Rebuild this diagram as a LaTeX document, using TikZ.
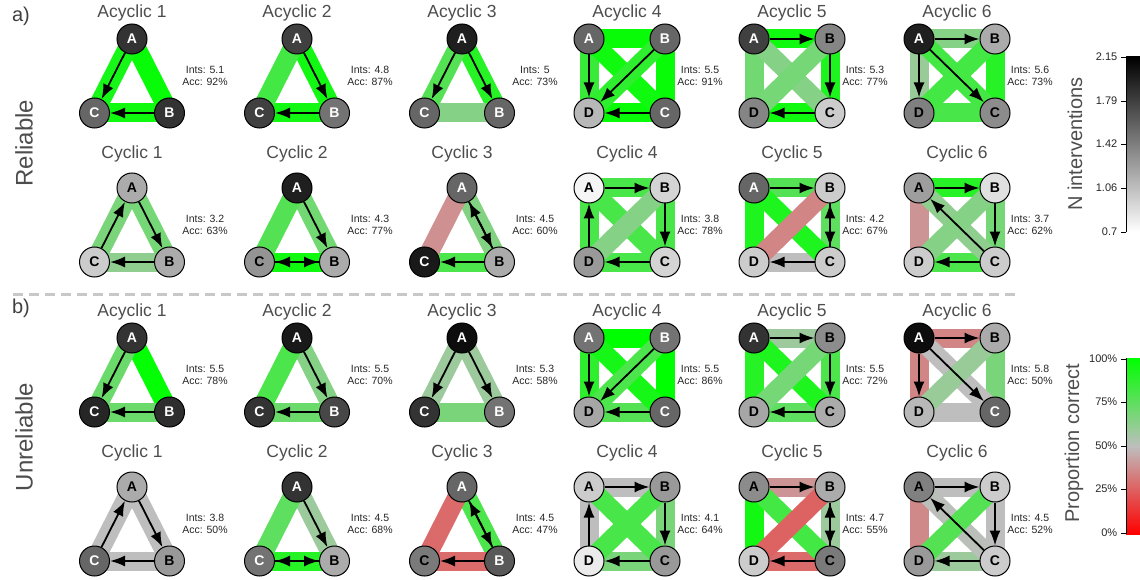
\documentclass[tikz,border=0pt]{standalone}
\usepackage{fontspec}
\setmainfont{Liberation Sans}
\usetikzlibrary{arrows.meta,backgrounds}
\definecolor{pgood}{HTML}{00FF00}
\definecolor{pmid}{HTML}{BEBEBE}
\definecolor{pbad}{HTML}{FF0000}
\definecolor{titlegrey}{HTML}{4D4D4D}
\definecolor{sepgrey}{HTML}{C8C8C8}

\begin{document}
\begin{tikzpicture}[
  x=1pt,
  y=-1pt,
  nd/.code={\tikzset{circle,draw=black,line width=1pt,minimum size=30pt,
    inner sep=0pt,font=\bfseries\fontsize{14}{14}\selectfont,fill=black!#1}%
    \ifnum#1>53 \tikzset{text=white}\fi},
  band/.code={\pgfmathtruncatemacro\bandmix{abs(2*#1-100)}%
    \ifnum#1<50 \tikzset{draw=pbad!\bandmix!pmid}\else\tikzset{draw=pgood!\bandmix!pmid}\fi
    \tikzset{line width=19pt}},
  arr/.style={line width=1.8pt,-{Latex[length=15pt,width=11pt]}},
  gtitle/.style={text=titlegrey,font=\fontsize{17.5}{17.5}\selectfont},
  stats/.style={align=center,text=black!85,font=\fontsize{10.5}{12}\selectfont},
  rowlabel/.style={text=titlegrey,font=\fontsize{24}{24}\selectfont,rotate=90},
  panellabel/.style={text=black!75,font=\fontsize{20}{20}\selectfont},
  barlabel/.style={text=titlegrey,font=\fontsize{20}{20}\selectfont,rotate=90},
  ticklabel/.style={text=black!85,font=\fontsize{11}{11}\selectfont,anchor=east},
  sepline/.style={draw=sepgrey,line width=3pt,dash pattern=on 10pt off 6pt}
]
  \useasboundingbox (0,0) rectangle (1140,580);

  % Panel letters, row labels and the split between them
  \node[panellabel] (pa) at (21,16) {a)};
  \node[rowlabel] (rel) at (24,143) {Reliable};
  \node[panellabel] (pb) at (21,308) {b)};
  \node[rowlabel] (unrel) at (24,437) {Unreliable};
  \draw[sepline] (13,294) -- (1021,294);

  % ---------------- Reliable, acyclic ----------------
  \begin{scope}[shift={(132,39)}]
    \node[gtitle] (ra1) at (0,-26) {Acyclic 1};
    \node[stats] (ra1s) at (73,37) {Ints: 5.1\\Acc: 92\%};
    \foreach \n/\x/\y/\k in {A/0/0/80,B/37.5/74/80,C/-37.5/74/60}
      \node[nd=\k] (ra1\n) at (\x,\y) {\n};
    \begin{scope}[on background layer]
      \foreach \u/\v/\p in {A/B/98,B/C/96,C/A/94}
        \draw[band=\p] (ra1\u.center) -- (ra1\v.center);
    \end{scope}
    \foreach \u/\v in {A/C,B/C} \draw[arr] (ra1\u) -- (ra1\v);
  \end{scope}

  \begin{scope}[shift={(297,39)}]
    \node[gtitle] (ra2) at (0,-26) {Acyclic 2};
    \node[stats] (ra2s) at (73,37) {Ints: 4.8\\Acc: 87\%};
    \foreach \n/\x/\y/\k in {A/0/0/75,B/37.5/74/55,C/-37.5/74/75}
      \node[nd=\k] (ra2\n) at (\x,\y) {\n};
    \begin{scope}[on background layer]
      \foreach \u/\v/\p in {A/B/95,B/C/95,C/A/82}
        \draw[band=\p] (ra2\u.center) -- (ra2\v.center);
    \end{scope}
    \foreach \u/\v in {A/B,B/C} \draw[arr] (ra2\u) -- (ra2\v);
  \end{scope}

  \begin{scope}[shift={(462,39)}]
    \node[gtitle] (ra3) at (0,-26) {Acyclic 3};
    \node[stats] (ra3s) at (73,37) {Ints: 5\\Acc: 73\%};
    \foreach \n/\x/\y/\k in {A/0/0/88,B/37.5/74/60,C/-37.5/74/60}
      \node[nd=\k] (ra3\n) at (\x,\y) {\n};
    \begin{scope}[on background layer]
      \foreach \u/\v/\p in {A/B/90,B/C/65,C/A/78}
        \draw[band=\p] (ra3\u.center) -- (ra3\v.center);
    \end{scope}
    \foreach \u/\v in {A/C,A/B} \draw[arr] (ra3\u) -- (ra3\v);
  \end{scope}

  \begin{scope}[shift={(627,39)}]
    \node[gtitle] (ra4) at (0,-26) {Acyclic 4};
    \node[stats] (ra4s) at (73,37) {Ints: 5.5\\Acc: 91\%};
    \foreach \n/\x/\y/\k in {A/-38/0/60,B/38/0/60,C/38/74/60,D/-38/74/28}
      \node[nd=\k] (ra4\n) at (\x,\y) {\n};
    \begin{scope}[on background layer]
      \foreach \u/\v/\p in {A/B/98,B/C/98,C/D/98,D/A/85,A/C/96,B/D/88}
        \draw[band=\p] (ra4\u.center) -- (ra4\v.center);
    \end{scope}
    \foreach \u/\v in {A/D,B/D,C/D} \draw[arr] (ra4\u) -- (ra4\v);
  \end{scope}

  \begin{scope}[shift={(792,39)}]
    \node[gtitle] (ra5) at (0,-26) {Acyclic 5};
    \node[stats] (ra5s) at (73,37) {Ints: 5.3\\Acc: 77\%};
    \foreach \n/\x/\y/\k in {A/-38/0/75,B/38/0/48,C/38/74/20,D/-38/74/48}
      \node[nd=\k] (ra5\n) at (\x,\y) {\n};
    \begin{scope}[on background layer]
      \foreach \u/\v/\p in {A/B/96,B/C/92,C/D/96,D/A/70,A/C/65,B/D/69}
        \draw[band=\p] (ra5\u.center) -- (ra5\v.center);
    \end{scope}
    \foreach \u/\v in {A/B,B/C,C/D} \draw[arr] (ra5\u) -- (ra5\v);
  \end{scope}

  \begin{scope}[shift={(957,39)}]
    \node[gtitle] (ra6) at (0,-26) {Acyclic 6};
    \node[stats] (ra6s) at (73,37) {Ints: 5.6\\Acc: 73\%};
    \foreach \n/\x/\y/\k in {A/-38/0/88,B/38/0/33,C/38/74/45,D/-38/74/50}
      \node[nd=\k] (ra6\n) at (\x,\y) {\n};
    \begin{scope}[on background layer]
      \foreach \u/\v/\p in {A/B/65,B/C/90,C/D/81,D/A/60,A/C/82,B/D/82}
        \draw[band=\p] (ra6\u.center) -- (ra6\v.center);
    \end{scope}
    \foreach \u/\v in {A/B,A/D,A/C} \draw[arr] (ra6\u) -- (ra6\v);
  \end{scope}

  % ---------------- Reliable, cyclic ----------------
  \begin{scope}[shift={(132,188)}]
    \node[gtitle] (rc1) at (0,-34) {Cyclic 1};
    \node[stats] (rc1s) at (73,37) {Ints: 3.2\\Acc: 63\%};
    \foreach \n/\x/\y/\k in {A/0/0/33,B/37.5/74/33,C/-37.5/74/20}
      \node[nd=\k] (rc1\n) at (\x,\y) {\n};
    \begin{scope}[on background layer]
      \foreach \u/\v/\p in {A/B/69,B/C/62,C/A/68}
        \draw[band=\p] (rc1\u.center) -- (rc1\v.center);
    \end{scope}
    \foreach \u/\v in {C/A,A/B,B/C} \draw[arr] (rc1\u) -- (rc1\v);
  \end{scope}

  \begin{scope}[shift={(297,188)}]
    \node[gtitle] (rc2) at (0,-34) {Cyclic 2};
    \node[stats] (rc2s) at (73,37) {Ints: 4.3\\Acc: 77\%};
    \foreach \n/\x/\y/\k in {A/0/0/88,B/37.5/74/33,C/-37.5/74/42}
      \node[nd=\k] (rc2\n) at (\x,\y) {\n};
    \begin{scope}[on background layer]
      \foreach \u/\v/\p in {A/B/70,B/C/96,C/A/78}
        \draw[band=\p] (rc2\u.center) -- (rc2\v.center);
    \end{scope}
    \foreach \u/\v in {A/B,B/C,C/B} \draw[arr] (rc2\u) -- (rc2\v);
  \end{scope}

  \begin{scope}[shift={(462,188)}]
    \node[gtitle] (rc3) at (0,-34) {Cyclic 3};
    \node[stats] (rc3s) at (73,37) {Ints: 4.5\\Acc: 60\%};
    \foreach \n/\x/\y/\k in {A/0/0/60,B/37.5/74/33,C/-37.5/74/90}
      \node[nd=\k] (rc3\n) at (\x,\y) {\n};
    \begin{scope}[on background layer]
      \foreach \u/\v/\p in {A/B/66,B/C/80,C/A/38}
        \draw[band=\p] (rc3\u.center) -- (rc3\v.center);
    \end{scope}
    \foreach \u/\v in {A/B,B/A,B/C} \draw[arr] (rc3\u) -- (rc3\v);
  \end{scope}

  \begin{scope}[shift={(627,188)}]
    \node[gtitle] (rc4) at (0,-34) {Cyclic 4};
    \node[stats] (rc4s) at (73,37) {Ints: 3.8\\Acc: 78\%};
    \foreach \n/\x/\y/\k in {A/-38/0/4,B/38/0/17,C/38/74/17,D/-38/74/40}
      \node[nd=\k] (rc4\n) at (\x,\y) {\n};
    \begin{scope}[on background layer]
      \foreach \u/\v/\p in {A/B/81,B/C/81,C/D/81,D/A/81,A/C/81,B/D/65}
        \draw[band=\p] (rc4\u.center) -- (rc4\v.center);
    \end{scope}
    \foreach \u/\v in {A/B,B/C,C/D,D/A} \draw[arr] (rc4\u) -- (rc4\v);
  \end{scope}

  \begin{scope}[shift={(792,188)}]
    \node[gtitle] (rc5) at (0,-34) {Cyclic 5};
    \node[stats] (rc5s) at (73,37) {Ints: 4.2\\Acc: 67\%};
    \foreach \n/\x/\y/\k in {A/-38/0/60,B/38/0/20,C/38/74/20,D/-38/74/20}
      \node[nd=\k] (rc5\n) at (\x,\y) {\n};
    \begin{scope}[on background layer]
      \foreach \u/\v/\p in {A/B/78,B/C/75,C/D/50,D/A/92,A/C/92,B/D/35}
        \draw[band=\p] (rc5\u.center) -- (rc5\v.center);
    \end{scope}
    \foreach \u/\v in {A/B,B/C,C/B,C/D} \draw[arr] (rc5\u) -- (rc5\v);
  \end{scope}

  \begin{scope}[shift={(957,188)}]
    \node[gtitle] (rc6) at (0,-34) {Cyclic 6};
    \node[stats] (rc6s) at (73,37) {Ints: 3.7\\Acc: 62\%};
    \foreach \n/\x/\y/\k in {A/-38/0/38,B/38/0/12,C/38/74/20,D/-38/74/20}
      \node[nd=\k] (rc6\n) at (\x,\y) {\n};
    \begin{scope}[on background layer]
      \foreach \u/\v/\p in {A/B/90,B/C/69,C/D/80,D/A/39,A/C/62,B/D/65}
        \draw[band=\p] (rc6\u.center) -- (rc6\v.center);
    \end{scope}
    \foreach \u/\v in {A/B,B/C,C/A,C/D} \draw[arr] (rc6\u) -- (rc6\v);
  \end{scope}

  % ---------------- Unreliable, acyclic ----------------
  \begin{scope}[shift={(132,338)}]
    \node[gtitle] (ua1) at (0,-26) {Acyclic 1};
    \node[stats] (ua1s) at (73,37) {Ints: 5.5\\Acc: 78\%};
    \foreach \n/\x/\y/\k in {A/0/0/80,B/37.5/74/82,C/-37.5/74/85}
      \node[nd=\k] (ua1\n) at (\x,\y) {\n};
    \begin{scope}[on background layer]
      \foreach \u/\v/\p in {A/B/99,B/C/72,C/A/72}
        \draw[band=\p] (ua1\u.center) -- (ua1\v.center);
    \end{scope}
    \foreach \u/\v in {A/C,B/C} \draw[arr] (ua1\u) -- (ua1\v);
  \end{scope}

  \begin{scope}[shift={(297,338)}]
    \node[gtitle] (ua2) at (0,-26) {Acyclic 2};
    \node[stats] (ua2s) at (73,37) {Ints: 5.5\\Acc: 70\%};
    \foreach \n/\x/\y/\k in {A/0/0/90,B/37.5/74/72,C/-37.5/74/80}
      \node[nd=\k] (ua2\n) at (\x,\y) {\n};
    \begin{scope}[on background layer]
      \foreach \u/\v/\p in {A/B/65,B/C/72,C/A/80}
        \draw[band=\p] (ua2\u.center) -- (ua2\v.center);
    \end{scope}
    \foreach \u/\v in {A/B,B/C} \draw[arr] (ua2\u) -- (ua2\v);
  \end{scope}

  \begin{scope}[shift={(462,338)}]
    \node[gtitle] (ua3) at (0,-26) {Acyclic 3};
    \node[stats] (ua3s) at (73,37) {Ints: 5.3\\Acc: 58\%};
    \foreach \n/\x/\y/\k in {A/0/0/95,B/37.5/74/55,C/-37.5/74/80}
      \node[nd=\k] (ua3\n) at (\x,\y) {\n};
    \begin{scope}[on background layer]
      \foreach \u/\v/\p in {A/B/59,B/C/68,C/A/59}
        \draw[band=\p] (ua3\u.center) -- (ua3\v.center);
    \end{scope}
    \foreach \u/\v in {A/C,A/B} \draw[arr] (ua3\u) -- (ua3\v);
  \end{scope}

  \begin{scope}[shift={(627,338)}]
    \node[gtitle] (ua4) at (0,-26) {Acyclic 4};
    \node[stats] (ua4s) at (73,37) {Ints: 5.5\\Acc: 86\%};
    \foreach \n/\x/\y/\k in {A/-38/0/55,B/38/0/55,C/38/74/60,D/-38/74/35}
      \node[nd=\k] (ua4\n) at (\x,\y) {\n};
    \begin{scope}[on background layer]
      \foreach \u/\v/\p in {A/B/100,B/C/100,C/D/78,D/A/88,A/C/94,B/D/80}
        \draw[band=\p] (ua4\u.center) -- (ua4\v.center);
    \end{scope}
    \foreach \u/\v in {A/D,B/D,C/D} \draw[arr] (ua4\u) -- (ua4\v);
  \end{scope}

  \begin{scope}[shift={(792,338)}]
    \node[gtitle] (ua5) at (0,-26) {Acyclic 5};
    \node[stats] (ua5s) at (73,37) {Ints: 5.5\\Acc: 72\%};
    \foreach \n/\x/\y/\k in {A/-38/0/80,B/38/0/45,C/38/74/33,D/-38/74/35}
      \node[nd=\k] (ua5\n) at (\x,\y) {\n};
    \begin{scope}[on background layer]
      \foreach \u/\v/\p in {A/B/59,B/C/80,C/D/75,D/A/90,A/C/92,B/D/69}
        \draw[band=\p] (ua5\u.center) -- (ua5\v.center);
    \end{scope}
    \foreach \u/\v in {A/B,B/C,C/D} \draw[arr] (ua5\u) -- (ua5\v);
  \end{scope}

  \begin{scope}[shift={(957,338)}]
    \node[gtitle] (ua6) at (0,-26) {Acyclic 6};
    \node[stats] (ua6s) at (73,37) {Ints: 5.8\\Acc: 50\%};
    \foreach \n/\x/\y/\k in {A/-38/0/95,B/38/0/33,C/38/74/60,D/-38/74/28}
      \node[nd=\k] (ua6\n) at (\x,\y) {\n};
    \begin{scope}[on background layer]
      \foreach \u/\v/\p in {A/B/35,B/C/68,C/D/50,D/A/35,A/C/50,B/D/60}
        \draw[band=\p] (ua6\u.center) -- (ua6\v.center);
    \end{scope}
    \foreach \u/\v in {A/B,A/D,A/C} \draw[arr] (ua6\u) -- (ua6\v);
  \end{scope}

  % ---------------- Unreliable, cyclic ----------------
  \begin{scope}[shift={(132,487)}]
    \node[gtitle] (uc1) at (0,-34) {Cyclic 1};
    \node[stats] (uc1s) at (73,37) {Ints: 3.8\\Acc: 50\%};
    \foreach \n/\x/\y/\k in {A/0/0/33,B/37.5/74/40,C/-37.5/74/60}
      \node[nd=\k] (uc1\n) at (\x,\y) {\n};
    \begin{scope}[on background layer]
      \foreach \u/\v/\p in {A/B/50,B/C/50,C/A/50}
        \draw[band=\p] (uc1\u.center) -- (uc1\v.center);
    \end{scope}
    \foreach \u/\v in {C/A,A/B,B/C} \draw[arr] (uc1\u) -- (uc1\v);
  \end{scope}

  \begin{scope}[shift={(297,487)}]
    \node[gtitle] (uc2) at (0,-34) {Cyclic 2};
    \node[stats] (uc2s) at (73,37) {Ints: 4.5\\Acc: 68\%};
    \foreach \n/\x/\y/\k in {A/0/0/80,B/37.5/74/33,C/-37.5/74/55}
      \node[nd=\k] (uc2\n) at (\x,\y) {\n};
    \begin{scope}[on background layer]
      \foreach \u/\v/\p in {A/B/59,B/C/90,C/A/75}
        \draw[band=\p] (uc2\u.center) -- (uc2\v.center);
    \end{scope}
    \foreach \u/\v in {A/B,B/C,C/B} \draw[arr] (uc2\u) -- (uc2\v);
  \end{scope}

  \begin{scope}[shift={(462,487)}]
    \node[gtitle] (uc3) at (0,-34) {Cyclic 3};
    \node[stats] (uc3s) at (73,37) {Ints: 4.5\\Acc: 47\%};
    \foreach \n/\x/\y/\k in {A/0/0/60,B/37.5/74/65,C/-37.5/74/52}
      \node[nd=\k] (uc3\n) at (\x,\y) {\n};
    \begin{scope}[on background layer]
      \foreach \u/\v/\p in {A/B/80,B/C/28,C/A/28}
        \draw[band=\p] (uc3\u.center) -- (uc3\v.center);
    \end{scope}
    \foreach \u/\v in {A/B,B/A,B/C} \draw[arr] (uc3\u) -- (uc3\v);
  \end{scope}

  \begin{scope}[shift={(627,487)}]
    \node[gtitle] (uc4) at (0,-34) {Cyclic 4};
    \node[stats] (uc4s) at (73,37) {Ints: 4.1\\Acc: 64\%};
    \foreach \n/\x/\y/\k in {A/-38/0/20,B/38/0/40,C/38/74/40,D/-38/74/8}
      \node[nd=\k] (uc4\n) at (\x,\y) {\n};
    \begin{scope}[on background layer]
      \foreach \u/\v/\p in {A/B/50,B/C/68,C/D/68,D/A/50,A/C/81,B/D/81}
        \draw[band=\p] (uc4\u.center) -- (uc4\v.center);
    \end{scope}
    \foreach \u/\v in {A/B,B/C,C/D,D/A} \draw[arr] (uc4\u) -- (uc4\v);
  \end{scope}

  \begin{scope}[shift={(792,487)}]
    \node[gtitle] (uc5) at (0,-34) {Cyclic 5};
    \node[stats] (uc5s) at (73,37) {Ints: 4.7\\Acc: 55\%};
    \foreach \n/\x/\y/\k in {A/-38/0/45,B/38/0/33,C/38/74/52,D/-38/74/20}
      \node[nd=\k] (uc5\n) at (\x,\y) {\n};
    \begin{scope}[on background layer]
      \foreach \u/\v/\p in {A/B/39,B/C/59,C/D/28,D/A/95,A/C/82,B/D/26}
        \draw[band=\p] (uc5\u.center) -- (uc5\v.center);
    \end{scope}
    \foreach \u/\v in {A/B,B/C,C/B,C/D} \draw[arr] (uc5\u) -- (uc5\v);
  \end{scope}

  \begin{scope}[shift={(957,487)}]
    \node[gtitle] (uc6) at (0,-34) {Cyclic 6};
    \node[stats] (uc6s) at (73,37) {Ints: 4.5\\Acc: 52\%};
    \foreach \n/\x/\y/\k in {A/-38/0/50,B/38/0/20,C/38/74/20,D/-38/74/40}
      \node[nd=\k] (uc6\n) at (\x,\y) {\n};
    \begin{scope}[on background layer]
      \foreach \u/\v/\p in {A/B/50,B/C/50,C/D/59,D/A/36,A/C/51,B/D/78}
        \draw[band=\p] (uc6\u.center) -- (uc6\v.center);
    \end{scope}
    \foreach \u/\v in {A/B,B/C,C/A,C/D} \draw[arr] (uc6\u) -- (uc6\v);
  \end{scope}

  % Colour key: number of interventions (node shading)
  \shade[bottom color=white,top color=black] (1126,57) rectangle (1141,232);
  \draw[line width=0.8pt] (1126,57) -- (1126,232);
  \foreach \v/\y in {2.15/57,1.79/101,1.42/144,1.06/188,0.7/232}
    \draw[line width=0.8pt] (1126,\y) -- (1121,\y) node[ticklabel] (ni\y) {\v};
  \node[barlabel] (nint) at (1075,144) {N interventions};

  % Colour key: proportion correct (edge bands)
  \shade[bottom color=pmid,top color=pgood] (1126,358) rectangle (1141,446.5);
  \shade[bottom color=pbad,top color=pmid] (1126,446) rectangle (1141,534);
  \draw[line width=0.8pt] (1126,358) -- (1126,534);
  \foreach \v/\y in {100\%/359,75\%/402,50\%/446,25\%/489,0\%/533}
    \draw[line width=0.8pt] (1126,\y) -- (1121,\y) node[ticklabel] (pc\y) {\v};
  \node[barlabel] (pcor) at (1074,443) {Proportion correct};
\end{tikzpicture}
\end{document}
